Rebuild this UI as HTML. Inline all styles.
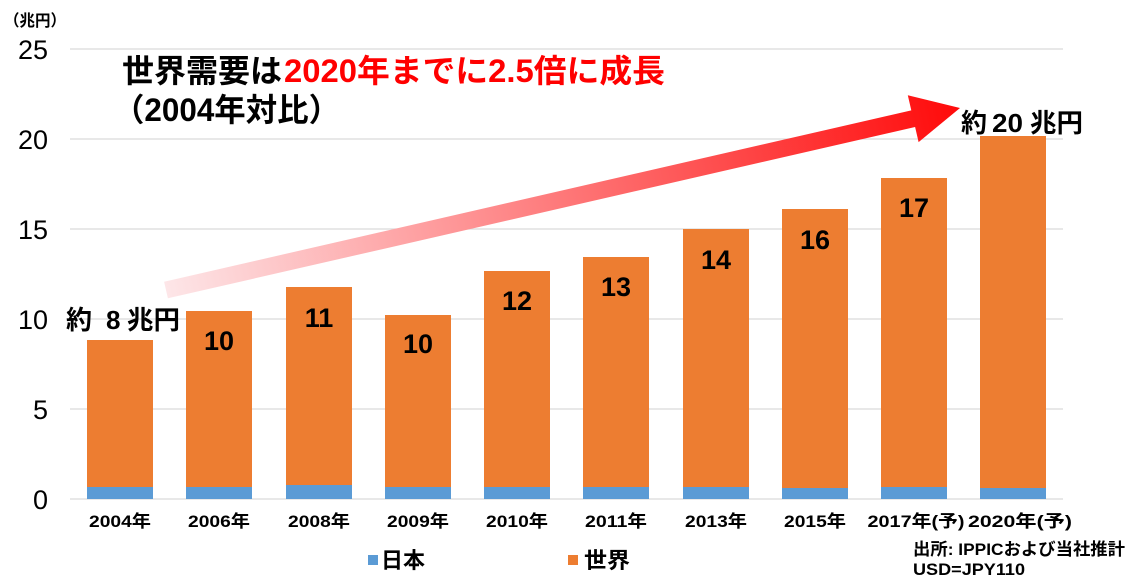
<!DOCTYPE html>
<html>
<head>
<meta charset="utf-8">
<style>
  html,body{margin:0;padding:0;background:#fff;}
  body{width:1131px;height:580px;overflow:hidden;}
  svg{display:block;}
  text{font-family:"Liberation Sans","Noto Sans CJK JP",sans-serif;}
</style>
</head>
<body>
<svg width="1131" height="580" viewBox="0 0 1131 580" xmlns="http://www.w3.org/2000/svg">
  <defs>
    <linearGradient id="ag" gradientUnits="userSpaceOnUse" x1="166" y1="290" x2="960" y2="108">
      <stop offset="0" stop-color="#fde6e8"/>
      <stop offset="1" stop-color="#ff0a0a"/>
    </linearGradient>
  </defs>

  <!-- gridlines -->
  <g stroke="#d9d9d9" stroke-width="1.3">
    <line x1="70" y1="49" x2="1063" y2="49"/>
    <line x1="70" y1="139" x2="1063" y2="139"/>
    <line x1="70" y1="229" x2="1063" y2="229"/>
    <line x1="70" y1="319" x2="1063" y2="319"/>
    <line x1="70" y1="409" x2="1063" y2="409"/>
    <line x1="70" y1="499" x2="1063" y2="499"/>
  </g>

  <!-- unit label -->
  <text x="4" y="26" font-size="16" font-weight="bold" textLength="62" lengthAdjust="spacingAndGlyphs">（兆円）</text>

  <!-- y axis labels -->
  <g font-size="27" text-anchor="end" fill="#000">
    <text x="48" y="59">25</text>
    <text x="48" y="149">20</text>
    <text x="48" y="239">15</text>
    <text x="48" y="329">10</text>
    <text x="48" y="419">5</text>
    <text x="48" y="509">0</text>
  </g>

  <!-- bars: orange (world) -->
  <g fill="#ed7d31">
    <rect x="87" y="340" width="66" height="147"/>
    <rect x="186" y="311" width="66" height="176"/>
    <rect x="286" y="287" width="66" height="198"/>
    <rect x="385" y="315" width="66" height="172"/>
    <rect x="484" y="271" width="66" height="216"/>
    <rect x="583" y="257" width="66" height="230"/>
    <rect x="683" y="229" width="66" height="258"/>
    <rect x="782" y="209" width="66" height="279"/>
    <rect x="881" y="178" width="66" height="309"/>
    <rect x="980" y="136" width="66" height="352"/>
  </g>
  <!-- bars: blue (japan) -->
  <g fill="#5b9bd5">
    <rect x="87" y="487" width="66" height="12"/>
    <rect x="186" y="487" width="66" height="12"/>
    <rect x="286" y="485" width="66" height="14"/>
    <rect x="385" y="487" width="66" height="12"/>
    <rect x="484" y="487" width="66" height="12"/>
    <rect x="583" y="487" width="66" height="12"/>
    <rect x="683" y="487" width="66" height="12"/>
    <rect x="782" y="488" width="66" height="11"/>
    <rect x="881" y="487" width="66" height="12"/>
    <rect x="980" y="488" width="66" height="11"/>
  </g>

  <!-- bar value labels -->
  <g font-size="27" font-weight="bold" text-anchor="middle" fill="#000">
    <text x="219" y="350">10</text>
    <text x="319" y="327">11</text>
    <text x="418" y="353">10</text>
    <text x="517" y="310">12</text>
    <text x="616" y="296">13</text>
    <text x="716" y="269">14</text>
    <text x="815" y="249">16</text>
    <text x="914" y="217">17</text>
  </g>

  <!-- arrow -->
  <polygon fill="url(#ag)" points="164.1,281.7 911.3,110.4 907.8,95.3 960,108 918.6,142.1 915.1,127.0 167.9,298.3"/>

  <!-- title -->
  <text x="122" y="82" font-size="32" font-weight="bold" fill="#000" textLength="160" lengthAdjust="spacingAndGlyphs">世界需要は</text>
  <text x="284" y="82" font-size="32" font-weight="bold" fill="#ff0000" textLength="381" lengthAdjust="spacingAndGlyphs">2020年までに2.5倍に成長</text>
  <text x="113" y="121" font-size="32" font-weight="bold" fill="#000" textLength="227" lengthAdjust="spacingAndGlyphs">（2004年対比）</text>

  <!-- annotations -->
  <g font-size="26" font-weight="bold" fill="#000">
    <text x="66" y="329">約</text>
    <text x="106" y="329">8</text>
    <text x="127" y="329" textLength="53" lengthAdjust="spacingAndGlyphs">兆円</text>
    <text x="961" y="132">約</text>
    <text x="992" y="132" textLength="31" lengthAdjust="spacingAndGlyphs">20</text>
    <text x="1030" y="132" textLength="53" lengthAdjust="spacingAndGlyphs">兆円</text>
  </g>

  <!-- x axis labels -->
  <g font-size="17" font-weight="bold" fill="#000" text-anchor="middle">
    <text x="120" y="527" textLength="62" lengthAdjust="spacingAndGlyphs">2004年</text>
    <text x="219" y="527" textLength="62" lengthAdjust="spacingAndGlyphs">2006年</text>
    <text x="319" y="527" textLength="62" lengthAdjust="spacingAndGlyphs">2008年</text>
    <text x="418" y="527" textLength="62" lengthAdjust="spacingAndGlyphs">2009年</text>
    <text x="517" y="527" textLength="62" lengthAdjust="spacingAndGlyphs">2010年</text>
    <text x="616" y="527" textLength="62" lengthAdjust="spacingAndGlyphs">2011年</text>
    <text x="716" y="527" textLength="62" lengthAdjust="spacingAndGlyphs">2013年</text>
    <text x="815" y="527" textLength="62" lengthAdjust="spacingAndGlyphs">2015年</text>
    <text x="916" y="527" textLength="97" lengthAdjust="spacingAndGlyphs">2017年(予)</text>
    <text x="1020" y="527" textLength="104" lengthAdjust="spacingAndGlyphs">2020年(予)</text>
  </g>

  <!-- legend -->
  <rect x="368" y="555" width="10" height="10" fill="#5b9bd5"/>
  <text x="381" y="568" font-size="22" font-weight="bold" fill="#000" textLength="44" lengthAdjust="spacingAndGlyphs">日本</text>
  <rect x="568" y="555" width="10" height="10" fill="#ed7d31"/>
  <text x="584" y="568" font-size="22" font-weight="bold" fill="#000" textLength="46" lengthAdjust="spacingAndGlyphs">世界</text>

  <!-- source -->
  <text x="913" y="555" font-size="17" font-weight="bold" fill="#000" textLength="212" lengthAdjust="spacingAndGlyphs">出所: IPPICおよび当社推計</text>
  <text x="913" y="575" font-size="17" font-weight="bold" fill="#000" textLength="112" lengthAdjust="spacingAndGlyphs">USD=JPY110</text>
</svg>
</body>
</html>
